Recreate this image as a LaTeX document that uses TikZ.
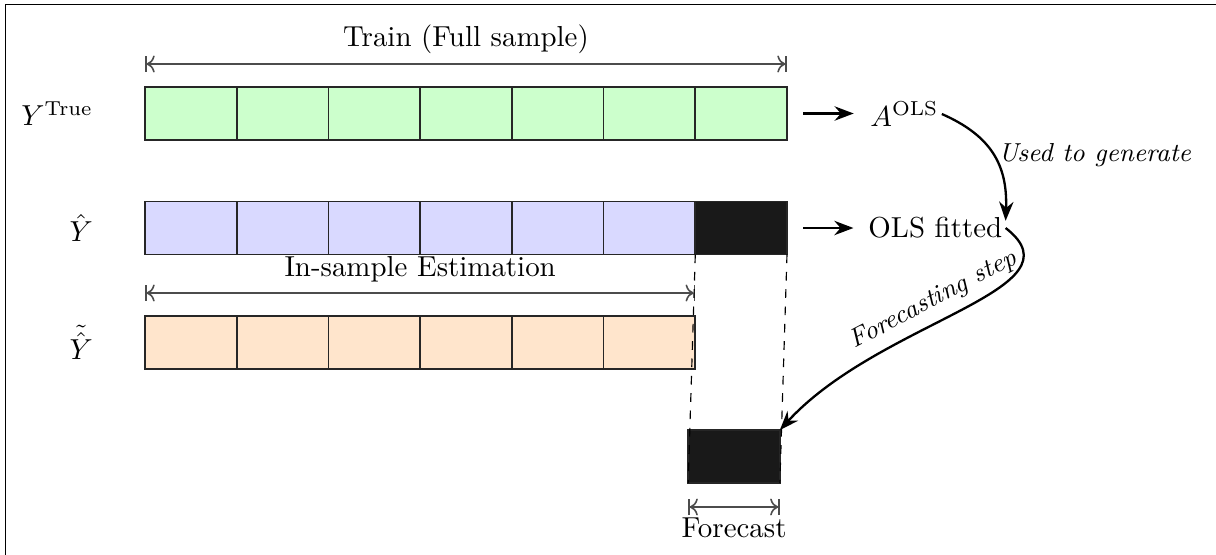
\documentclass[tikz,border=0pt]{standalone}
\usetikzlibrary{arrows.meta}
\begin{document}
\begin{tikzpicture}[x=0.346pt,y=-0.346pt,
  cell/.style={draw=black!85, line width=0.6pt, minimum width=31.73pt, minimum height=18.34pt,
    inner sep=0pt, outer sep=0pt},
  dim/.style={black!70, line width=0.55pt, |<->|},
  flow/.style={thick, -{Stealth}},
  rowlabel/.style={anchor=east},
  result/.style={anchor=west, inner sep=1pt},
  note/.style={font=\small\itshape}]
\useasboundingbox (0,0) rectangle (1216,555);
% frame
\draw[line width=0.6pt] (5.5,555) -- (5.5,4.5) -- (1216,4.5);

% rows of cells
\foreach \i in {1,...,7}
  \node[cell, fill=green!20] (g\i) at ({145+91.714*(\i-0.5)},113.5) {};
\foreach \i in {1,...,6}
  \node[cell, fill=blue!15] (b\i) at ({145+91.714*(\i-0.5)},228) {};
\node[cell, fill=black!90] (b7) at ({145+91.714*6.5},228) {};
\foreach \i in {1,...,6}
  \node[cell, fill=orange!20] (o\i) at ({145+91.714*(\i-0.5)},342.5) {};
\node[cell, fill=black!90] (fc) at (734,456.5) {};

% row labels
\node[rowlabel] (ytrue) at (103,113.5) {$Y^{\mathrm{True}}$};
\node[rowlabel] (yhat) at (103,228) {$\hat{Y}$};
\node[rowlabel] (ytil) at (103,342.5) {$\tilde{\hat{Y}}$};

% dimension arrows
\draw[dim] ([yshift=7.96pt]g1.north west) -- ([yshift=7.96pt]g7.north east)
  node[midway, above, black] {Train (Full sample)};
\draw[dim] ([yshift=7.96pt]o1.north west) -- ([yshift=7.96pt]o6.north east)
  node[midway, above, black] {In-sample Estimation};
\draw[dim] ([yshift=-8.3pt]fc.south west) -- ([yshift=-8.3pt]fc.south east)
  node[midway, below, black] {Forecast};

% projection of the last fitted cell
\draw[dashed] (b7.south west) -- (fc.south west);
\draw[dashed] (b7.south east) -- (fc.south east);

% results
\node[result] (aols) at (867,114) {$A^{\mathrm{OLS}}$};
\node[result] (fit) at (865,228) {OLS fitted};
\draw[flow, shorten <=5.54pt, shorten >=4.6pt] (g7.east) -- (g7.east -| aols.west);
\draw[flow, shorten <=5.54pt, shorten >=4pt] (b7.east) -- (b7.east -| fit.west);

\draw[flow] (aols.east) .. controls +(50,22) and +(2,-55) .. ([yshift=2.5pt]fit.east)
  node[midway, right, inner sep=1.5pt, note] {Used to generate};
\draw[flow] (fit.east) .. controls +(80,62) and +(101,-110) .. (fc.north east)
  node[pos=0.55, sloped, above, note] {Forecasting step};
\end{tikzpicture}
\end{document}
